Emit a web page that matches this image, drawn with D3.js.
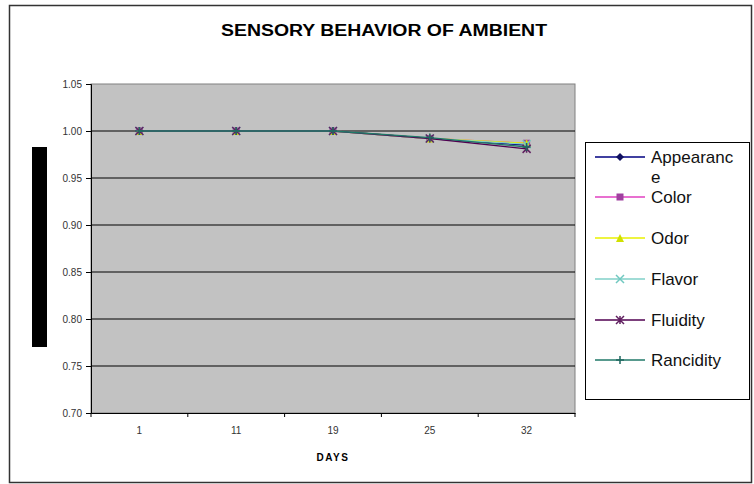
<!DOCTYPE html>
<html><head><meta charset="utf-8">
<script src="https://cdn.jsdelivr.net/npm/d3@7"></script>
<style>body{margin:0;background:#fff}svg{display:block}text{font-family:Arial,"Liberation Sans",sans-serif}</style>
</head><body><svg id="c" width="754" height="484"></svg>
<script>
const days = ["1","11","19","25","32"];
const yTicks = [0.70,0.75,0.80,0.85,0.90,0.95,1.00,1.05];
const seriesNames = ["Appearance","Color","Odor","Flavor","Fluidity","Rancidity"];
const appearance = [1,1,1,0.992,0.985];
const color = [1,1,1,0.992,0.987];
const odor = [1,1,1,0.992,0.987];
const flavor = [1,1,1,0.992,0.986];
const fluidity = [1,1,1,0.992,0.981];
const rancidity = [1,1,1,0.993,0.983];
const seriesColors = ["#000080","#e040c0","#e8f000","#80d0c8","#500050","#207868"];
const markerColors = ["#101060","#a040a0","#d0e000","#70c8c0","#602060","#206860"];
const markerTypes = ["diamond","square","triangle","cross","star","plus"];

const seriesValues = [appearance,color,odor,flavor,fluidity,rancidity];
const svg = d3.select("#c");
const L=91,R=575,T=84,B=413;

svg.append("rect").attr("x",9.5).attr("y",5.5).attr("width",742).attr("height",477)
  .attr("fill","#fff").attr("stroke","#333").attr("stroke-width",1.5);

const x = d3.scaleBand().domain(days).range([L,R]);
const y = d3.scaleLinear().domain([0.70,1.05]).range([B,T]);

svg.append("rect").attr("x",L).attr("y",T).attr("width",R-L).attr("height",B-T)
  .attr("fill","#c2c2c2").attr("stroke","#808080");

svg.append("g").selectAll("line").data(yTicks.slice(1,-1)).join("line")
  .attr("x1",L).attr("x2",R).attr("y1",d=>y(d)).attr("y2",d=>y(d))
  .attr("stroke","#000").attr("stroke-width",1);

const ya = svg.append("g").attr("transform",`translate(${L},0)`)
  .call(d3.axisLeft(y).tickValues(yTicks).tickFormat(d3.format(".2f")).tickSize(5).tickPadding(4));
ya.select(".domain").attr("stroke","#000");
ya.selectAll("text").attr("font-size",10).attr("fill","#333");

const xa = svg.append("g").attr("transform",`translate(0,${B})`)
  .call(d3.axisBottom(x).tickSize(0).tickPadding(14));
xa.select(".domain").attr("stroke","#000");
xa.selectAll("text").attr("font-size",10).attr("fill","#333");
svg.append("g").selectAll("line").data(d3.range(days.length+1)).join("line")
  .attr("x1",i=>L+i*x.step()).attr("x2",i=>L+i*x.step()).attr("y1",B).attr("y2",B+4).attr("stroke","#000");

svg.append("text").attr("x",384).attr("y",36).attr("text-anchor","middle")
  .attr("font-size",16).attr("font-weight","bold").attr("textLength",326).attr("lengthAdjust","spacingAndGlyphs")
  .text("SENSORY BEHAVIOR OF AMBIENT");
svg.append("text").attr("x",(L+R)/2).attr("y",461).attr("text-anchor","middle")
  .attr("font-size",10).attr("font-weight","bold").attr("letter-spacing","1.5").text("DAYS");

svg.append("rect").attr("x",32).attr("y",147).attr("width",15).attr("height",200).attr("fill","#000");

function marker(g,type,cx,cy,c){
  const s=4;
  if(type==="diamond") g.append("path").attr("d",`M${cx},${cy-s}L${cx+s},${cy}L${cx},${cy+s}L${cx-s},${cy}Z`).attr("fill",c);
  else if(type==="square") g.append("rect").attr("x",cx-3.5).attr("y",cy-3.5).attr("width",7).attr("height",7).attr("fill",c);
  else if(type==="triangle") g.append("path").attr("d",`M${cx},${cy-s}L${cx+s},${cy+s}L${cx-s},${cy+s}Z`).attr("fill",c);
  else if(type==="cross") g.append("path").attr("d",`M${cx-s},${cy-s}L${cx+s},${cy+s}M${cx-s},${cy+s}L${cx+s},${cy-s}`).attr("stroke",c).attr("stroke-width",1.5);
  else if(type==="star") g.append("path").attr("d",`M${cx-s},${cy-s}L${cx+s},${cy+s}M${cx-s},${cy+s}L${cx+s},${cy-s}M${cx},${cy-s}L${cx},${cy+s}`).attr("stroke",c).attr("stroke-width",1.5);
  else if(type==="plus") g.append("path").attr("d",`M${cx-s},${cy}L${cx+s},${cy}M${cx},${cy-s}L${cx},${cy+s}`).attr("stroke",c).attr("stroke-width",1.5);
}

const line = d3.line().x((d,i)=>x(days[i])+x.bandwidth()/2).y(d=>y(d));
seriesValues.forEach((vals,k)=>{
  const g=svg.append("g");
  g.append("path").attr("d",line(vals)).attr("fill","none").attr("stroke",seriesColors[k]).attr("stroke-width",1.3);
  vals.forEach((v,i)=>marker(g,markerTypes[k],x(days[i])+x.bandwidth()/2,y(v),markerColors[k]));
});

// legend
const lg = svg.append("g");
lg.append("rect").attr("x",585.5).attr("y",142.5).attr("width",164).attr("height",257).attr("fill","#fff").attr("stroke","#000");
const ly=[157,197,238,279,320,360];
seriesNames.forEach((n,k)=>{
  lg.append("line").attr("x1",595).attr("x2",645).attr("y1",ly[k]).attr("y2",ly[k]).attr("stroke",seriesColors[k]).attr("stroke-width",1.3);
  marker(lg,markerTypes[k],620,ly[k],markerColors[k]);
  const t=lg.append("text").attr("x",651).attr("y",ly[k]+6).attr("font-size",17).attr("fill","#111");
  if(n==="Appearance"){t.text("Appearanc");lg.append("text").attr("x",651).attr("y",ly[k]+26).attr("font-size",17).attr("fill","#111").text("e");}
  else t.text(n);
});
</script></body></html>
